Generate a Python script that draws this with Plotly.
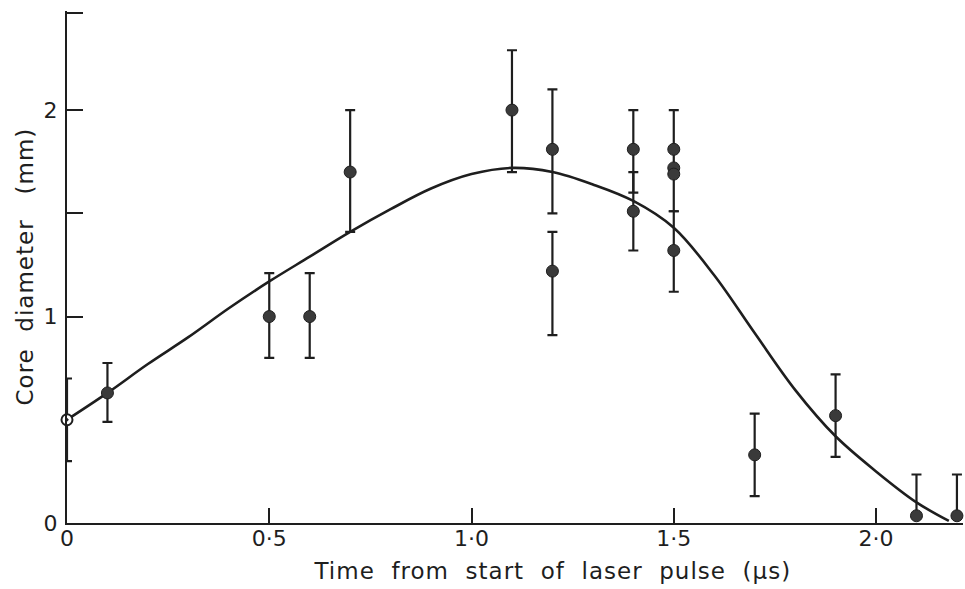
import plotly.graph_objects as go

# Measured points (filled)
x_pts = [0.1, 0.5, 0.6, 0.7, 1.1, 1.2, 1.2, 1.4, 1.4, 1.5, 1.5, 1.5, 1.5, 1.7, 1.9, 2.1, 2.2]
y_pts = [0.63, 1.0, 1.0, 1.70, 2.0, 1.81, 1.22, 1.81, 1.51, 1.81, 1.72, 1.69, 1.32, 0.33, 0.52, 0.035, 0.035]
err_plus = [0.145, 0.21, 0.21, 0.30, 0.29, 0.29, 0.19, 0.19, 0.19, 0.19, 0.0, 0.0, 0.19, 0.20, 0.20, 0.20, 0.20]
err_minus = [0.14, 0.20, 0.20, 0.29, 0.30, 0.31, 0.31, 0.21, 0.19, 0.30, 0.0, 0.0, 0.20, 0.20, 0.20, 0.0, 0.0]

# Open point at t = 0
x_open = [0.0]
y_open = [0.5]
open_plus = [0.2]
open_minus = [0.2]

# Hand-drawn curve
x_curve = [0, 0.1, 0.2, 0.3, 0.4, 0.5, 0.6, 0.7, 0.8, 0.9, 1.0, 1.1, 1.2, 1.3, 1.4, 1.5, 1.6, 1.7, 1.8, 1.9, 2.0, 2.1, 2.18]
y_curve = [0.50, 0.63, 0.77, 0.90, 1.04, 1.17, 1.29, 1.41, 1.52, 1.62, 1.69, 1.72, 1.70, 1.64, 1.56, 1.43, 1.20, 0.92, 0.645, 0.42, 0.25, 0.10, 0.01]

x_tickvals = [0, 0.5, 1.0, 1.5, 2.0]
x_ticktext = ["0", "0·5", "1·0", "1·5", "2·0"]
y_tickvals = [0, 1, 1.5, 2, 2.47]
y_ticktext = ["0", "1", "", "2", ""]

INK = "#1e1e1e"
FONT = "DejaVu Sans"
NB = "\u00a0"

fig = go.Figure()
fig.add_trace(go.Scatter(
    x=x_curve, y=y_curve, mode="lines",
    line=dict(color=INK, width=2.6, shape="spline", smoothing=1.0),
    hoverinfo="skip", showlegend=False, cliponaxis=False,
))
fig.add_trace(go.Scatter(
    x=x_pts, y=y_pts, mode="markers",
    marker=dict(size=12, color="#3a3a3a", line=dict(color=INK, width=1)),
    error_y=dict(type="data", symmetric=False, array=err_plus, arrayminus=err_minus,
                 color=INK, thickness=2.2, width=5),
    showlegend=False, cliponaxis=False,
))
fig.add_trace(go.Scatter(
    x=x_open, y=y_open, mode="markers",
    marker=dict(size=11, color="white", symbol="circle-dot", line=dict(color=INK, width=2)),
    error_y=dict(type="data", symmetric=False, array=open_plus, arrayminus=open_minus,
                 color=INK, thickness=2.2, width=5),
    showlegend=False, cliponaxis=False,
))

xtitle = (" " + NB).join(["Time", "from", "start", "of", "laser", "pulse", "(µs)"])
ytitle = (" " + NB).join(["Core", "diameter", NB + "(mm)"])

fig.update_layout(
    width=965, height=589,
    margin=dict(l=67, r=2, t=11, b=66),
    paper_bgcolor="white", plot_bgcolor="white",
    font=dict(family=FONT, color=INK, size=22),
    xaxis=dict(range=[0, 2.215], tickvals=x_tickvals, ticktext=x_ticktext,
               showline=True, linecolor=INK, linewidth=2.2, ticks="inside",
               ticklen=15, tickwidth=2, tickcolor=INK, showgrid=False, zeroline=False,
               automargin=False, ticklabelstandoff=-6, tickfont=dict(size=22, family=FONT)),
    yaxis=dict(range=[0, 2.48], tickvals=y_tickvals, ticktext=y_ticktext,
               showline=True, linecolor=INK, linewidth=2.2, ticks="inside",
               ticklen=16, tickwidth=2, tickcolor=INK, showgrid=False, zeroline=False,
               automargin=False, ticklabelstandoff=3, tickfont=dict(size=22, family=FONT)),
    annotations=[
        dict(text=xtitle, xref="paper", yref="paper",
             x=(552 - 67) / 896, y=-0.094, xanchor="center", yanchor="middle",
             showarrow=False, font=dict(size=23, family=FONT)),
        dict(text=ytitle, xref="paper", yref="paper",
             x=(25 - 67) / 896, y=0.50, xanchor="center", yanchor="middle", textangle=-90,
             showarrow=False, font=dict(size=23, family=FONT)),
    ],
)

post = """
document.body.style.margin='0';
document.body.style.padding='0';
document.querySelectorAll('.annotation-text').forEach(function(e){e.style.letterSpacing='1px';});
"""
fig.write_html("out.html", post_script=post, config={"displayModeBar": False})
